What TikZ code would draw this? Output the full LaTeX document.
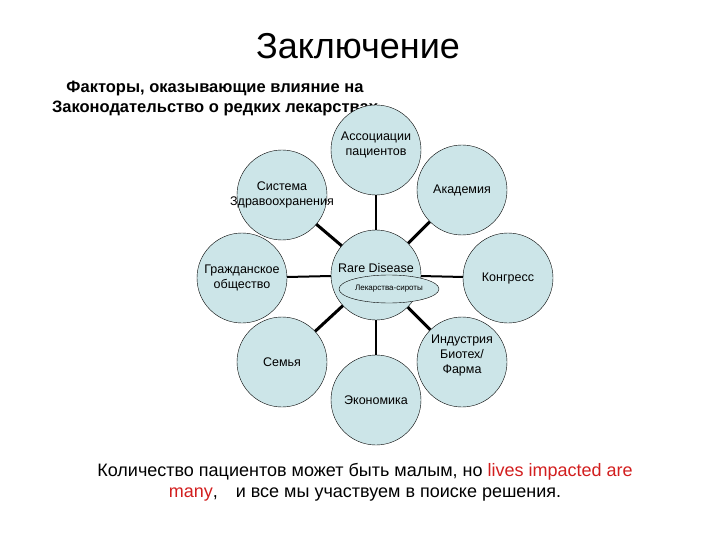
\documentclass[tikz,border=0pt]{standalone}
\usepackage{fontspec}
\setmainfont{Liberation Sans}
\usetikzlibrary{shapes.geometric}
\definecolor{cfill}{RGB}{204,229,232}
\definecolor{ctxt}{RGB}{210,30,30}
\begin{document}
\begin{tikzpicture}[x=1pt,y=-1pt,
  bub/.style={circle,draw=black,fill=cfill,minimum size=90pt,inner sep=0pt},
  lab/.style={align=center,inner sep=0pt,font=\fontsize{12.5}{15}\selectfont},
  spoke/.style={line width=2pt},
  dspoke/.style={line width=3pt}]
\useasboundingbox (0,0) rectangle (720,540);
\node[font=\fontsize{36}{40}\selectfont] (title) at (358,46) {Заключение};
\node[font=\bfseries\fontsize{16.5}{20}\selectfont,align=center] (sub) at (215,98) {Факторы, оказывающие влияние на\\Законодательство о редких лекарствах};
\coordinate (c) at (376,275);
\coordinate (pa) at (376,150);
\coordinate (pb) at (462,190);
\coordinate (pc) at (282,195);
\coordinate (pd) at (242,278);
\coordinate (pe) at (508,278);
\coordinate (pf) at (282,362);
\coordinate (pg) at (376,400);
\coordinate (ph) at (462,362);
\draw[spoke] (c) -- (pa); \draw[spoke] (c) -- (pd); \draw[spoke] (c) -- (pe); \draw[spoke] (c) -- (pg);
\draw[dspoke] (c) -- (pb); \draw[dspoke] (c) -- (pc); \draw[dspoke] (c) -- (pf); \draw[dspoke] (c) -- (ph);
\node[bub] (hub) at (c) {};
\node[lab] (hubt) at (376,268) {Rare Disease};
\node[ellipse,draw=black,fill=cfill,minimum width=100pt,minimum height=28pt,inner sep=0pt,font=\fontsize{8}{9}\selectfont] (orph) at (389,289) {Лекарства-сироты};
\node[bub] (a) at (pa) {}; \node[lab] at (376,145) {Ассоциации\\пациентов};
\node[bub] (b) at (pb) {}; \node[lab] at (pb) {Академия};
\node[bub] (s) at (pc) {}; \node[lab] at (pc) {Система\\Здравоохранения};
\node[bub] (d) at (pd) {}; \node[lab] at (pd) {Гражданское\\общество};
\node[bub] (e) at (pe) {}; \node[lab] at (pe) {Конгресс};
\node[bub] (f) at (pf) {}; \node[lab] at (pf) {Семья};
\node[bub] (g) at (pg) {}; \node[lab] at (pg) {Экономика};
\node[bub] (h) at (ph) {}; \node[lab] at (462,355) {Индустрия\\Биотех/\\Фарма};
\node[font=\fontsize{18}{21}\selectfont,align=center] (bot) at (365,482) {Количество пациентов может быть малым, но \textcolor{ctxt}{lives impacted are}\\\textcolor{ctxt}{many},\quad и все мы участвуем в поиске решения.};
\end{tikzpicture}
\end{document}
